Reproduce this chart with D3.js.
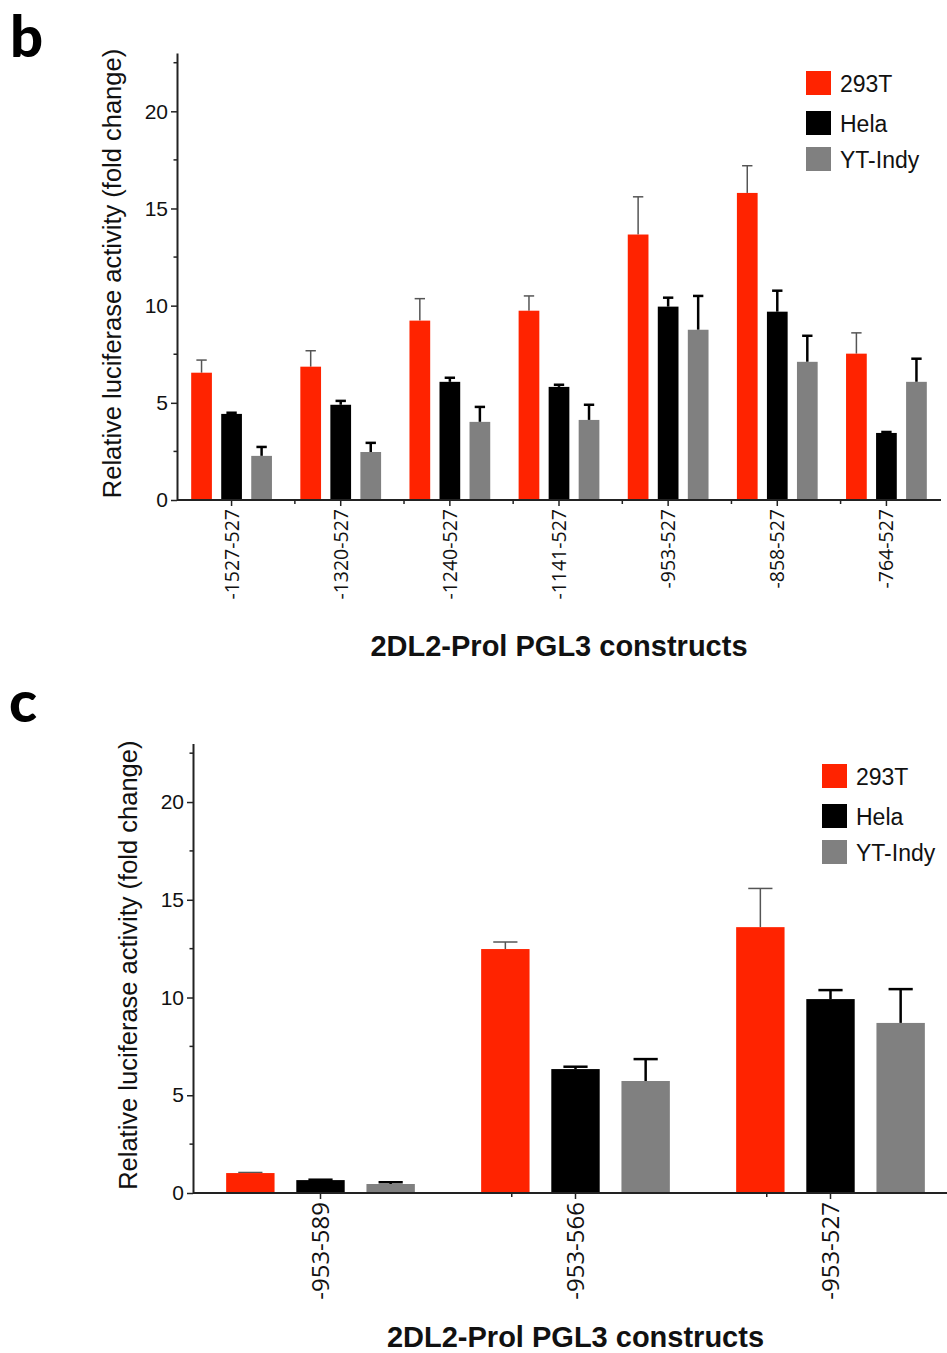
<!DOCTYPE html>
<html>
<head>
<meta charset="utf-8">
<script src="https://cdn.jsdelivr.net/npm/d3@7"></script>
<style>
  body { margin: 0; background: #fff; }
  svg { display: block; }
</style>
</head>
<body>
<script>
// ---- data ----
const SERIES = ['293T', 'Hela', 'YT-Indy'];
const SERIES_COLORS = ['#ff2300', '#000000', '#808080'];
const Y_TICKS = [0, 5, 10, 15, 20];

// panel b
const CATEGORIES_B = ['-1527-527', '-1320-527', '-1240-527', '-1141-527', '-953-527', '-858-527', '-764-527'];
const MEAN_B_293T = [6.55, 6.86, 9.23, 9.74, 13.66, 15.8, 7.53];
const MEAN_B_HELA = [4.43, 4.9, 6.08, 5.82, 9.95, 9.69, 3.45];
const MEAN_B_YT = [2.27, 2.47, 4.02, 4.12, 8.76, 7.11, 6.08];
const ERR_B_293T = [0.65, 0.82, 1.13, 0.76, 1.94, 1.4, 1.07];
const ERR_B_HELA = [0.06, 0.2, 0.21, 0.11, 0.46, 1.08, 0.05];
const ERR_B_YT = [0.46, 0.47, 0.77, 0.78, 1.74, 1.34, 1.19];

// panel c
const CATEGORIES_C = ['-953-589', '-953-566', '-953-527'];
const MEAN_C_293T = [1.02, 12.48, 13.6];
const MEAN_C_HELA = [0.66, 6.34, 9.92];
const MEAN_C_YT = [0.46, 5.73, 8.7];
const ERR_C_293T = [0.03, 0.36, 1.98];
const ERR_C_HELA = [0.02, 0.12, 0.46];
const ERR_C_YT = [0.09, 1.12, 1.73];

const W = 947, H = 1353;
const svg = d3.select('body').append('svg').attr('width', W).attr('height', H);

const PANELS = [
    {letter: 'b', letterX: 10, letterY: 57, left: 177, right: 941, bottom: 500, top: 53,
     cats: CATEGORIES_B, means: [MEAN_B_293T, MEAN_B_HELA, MEAN_B_YT], errs: [ERR_B_293T, ERR_B_HELA, ERR_B_YT],
     tickFont: 19.5, minorOffset: -0.42, clipRight: 941, titleDy: 156},
    {letter: 'c', letterX: 9, letterY: 722, left: 193, right: 958, bottom: 1193, top: 743.4,
     cats: CATEGORIES_C, means: [MEAN_C_293T, MEAN_C_HELA, MEAN_C_YT], errs: [ERR_C_293T, ERR_C_HELA, ERR_C_YT],
     tickFont: 24, minorOffset: -0.25, clipRight: 947, titleDy: 154}
];

function drawPanel(p) {
    const g = svg.append('g');

    const y = d3.scaleLinear().domain([0, 23]).range([p.bottom, p.top]);
    const x = d3.scaleBand().domain(p.cats).range([p.left, p.right]);
    const step = x.step();
    const inner = d3.scaleBand().domain(SERIES)
        .range([-0.37 * step, 0.37 * step])
        .paddingInner(0.31);

    // panel letter
    g.append('text')
        .attr('x', p.letterX).attr('y', p.letterY)
        .style('font-family', 'Lato, "Open Sans", sans-serif')
        .style('font-weight', 900)
        .style('font-size', '58px')
        .text(p.letter);

    // bars
    const rows = [];
    p.cats.forEach((c, i) => {
        SERIES.forEach((s, j) => rows.push({cat: c, s: s, j: j, v: p.means[j][i], e: p.errs[j][i]}));
    });

    const bx = d => x(d.cat) + step / 2 + inner(d.s);

    // error bars (drawn first so bar top covers line start)
    const eg = g.append('g');
    rows.forEach(d => {
        const cx = bx(d) + inner.bandwidth() / 2;
        const cap = inner.bandwidth() * 0.5;
        const col = d.j === 0 ? '#555' : '#000';
        const sw = d.j === 0 ? 1.5 : 2.5;
        eg.append('line')
            .attr('x1', cx).attr('x2', cx)
            .attr('y1', y(d.v)).attr('y2', y(d.v + d.e))
            .attr('stroke', col).attr('stroke-width', sw);
        eg.append('line')
            .attr('x1', cx - cap / 2).attr('x2', cx + cap / 2)
            .attr('y1', y(d.v + d.e)).attr('y2', y(d.v + d.e))
            .attr('stroke', col).attr('stroke-width', sw);
    });

    g.append('g').selectAll('rect')
        .data(rows)
        .enter()
        .append('rect')
        .attr('x', bx)
        .attr('y', d => y(d.v))
        .attr('width', inner.bandwidth())
        .attr('height', d => y(0) - y(d.v))
        .attr('fill', d => SERIES_COLORS[d.j]);

    // y axis
    const yAxis = d3.axisLeft(y).tickValues(Y_TICKS).tickSize(6).tickSizeOuter(0).tickPadding(3);
    const ya = g.append('g')
        .attr('transform', 'translate(' + p.left + ',0)')
        .call(yAxis);
    ya.select('.domain').attr('stroke', '#222').attr('stroke-width', 2);
    ya.selectAll('.tick line').attr('stroke', '#222').attr('stroke-width', 1.5);
    ya.selectAll('.tick text')
        .style('font-family', '"Liberation Sans", Arial, sans-serif')
        .style('font-size', '21px')
        .attr('fill', '#111');

    // minor y ticks
    g.append('g').selectAll('line')
        .data(d3.range(2.5, 23, 5))
        .enter()
        .append('line')
        .attr('x1', p.left - 3.5).attr('x2', p.left)
        .attr('y1', d => y(d)).attr('y2', d => y(d))
        .attr('stroke', '#222').attr('stroke-width', 1.5);

    // y label
    g.append('text')
        .attr('transform', 'translate(' + (p.left - 56) + ',' + ((p.top + p.bottom) / 2 - 3) + ') rotate(-90)')
        .attr('text-anchor', 'middle')
        .style('font-family', '"Liberation Sans", Arial, sans-serif')
        .style('font-size', '25.5px')
        .attr('fill', '#111')
        .text('Relative luciferase activity (fold change)');

    // x axis
    g.append('line')
        .attr('x1', p.left).attr('x2', p.clipRight)
        .attr('y1', p.bottom).attr('y2', p.bottom)
        .attr('stroke', '#222').attr('stroke-width', 2);

    const xa = g.append('g');
    xa.selectAll('line.major')
        .data(p.cats)
        .enter()
        .append('line')
        .attr('class', 'major')
        .attr('x1', d => x(d) + step / 2).attr('x2', d => x(d) + step / 2)
        .attr('y1', p.bottom).attr('y2', p.bottom + 6)
        .attr('stroke', '#222').attr('stroke-width', 1.5);
    xa.selectAll('line.minor')
        .data(p.cats.slice(1))
        .enter()
        .append('line')
        .attr('class', 'minor')
        .attr('x1', d => x(d) + step / 2 + p.minorOffset * step)
        .attr('x2', d => x(d) + step / 2 + p.minorOffset * step)
        .attr('y1', p.bottom).attr('y2', p.bottom + 4)
        .attr('stroke', '#222').attr('stroke-width', 1.5);

    xa.selectAll('text')
        .data(p.cats)
        .enter()
        .append('text')
        .attr('transform', d => 'translate(' + (x(d) + step / 2 + p.tickFont * 0.36) + ',' + (p.bottom + 9) + ') rotate(-90)')
        .attr('text-anchor', 'end')
        .style('font-family', '"Open Sans", sans-serif')
        .style('font-size', p.tickFont + 'px')
        .attr('fill', '#111')
        .text(d => d);

    // x title
    g.append('text')
        .attr('x', (p.left + p.right) / 2)
        .attr('y', p.bottom + p.titleDy)
        .attr('text-anchor', 'middle')
        .style('font-family', '"Liberation Sans", Arial, sans-serif')
        .style('font-weight', 'bold')
        .style('font-size', '29px')
        .attr('fill', '#111')
        .text('2DL2-Prol PGL3 constructs');

    // legend
    const LEG_DY = [0, 40, 76];
    const legend = g.append('g')
        .attr('transform', 'translate(' + (p.left + 629) + ',' + (p.bottom - 429) + ')');
    SERIES.forEach((s, j) => {
        legend.append('rect')
            .attr('x', 0).attr('y', LEG_DY[j])
            .attr('width', 25).attr('height', 24)
            .attr('fill', SERIES_COLORS[j]);
        legend.append('text')
            .attr('x', 34).attr('y', LEG_DY[j] + 21)
            .style('font-family', '"Liberation Sans", Arial, sans-serif')
            .style('font-size', '23px')
            .attr('fill', '#111')
            .text(s);
    });
}

PANELS.forEach(drawPanel);
</script>
</body>
</html>
